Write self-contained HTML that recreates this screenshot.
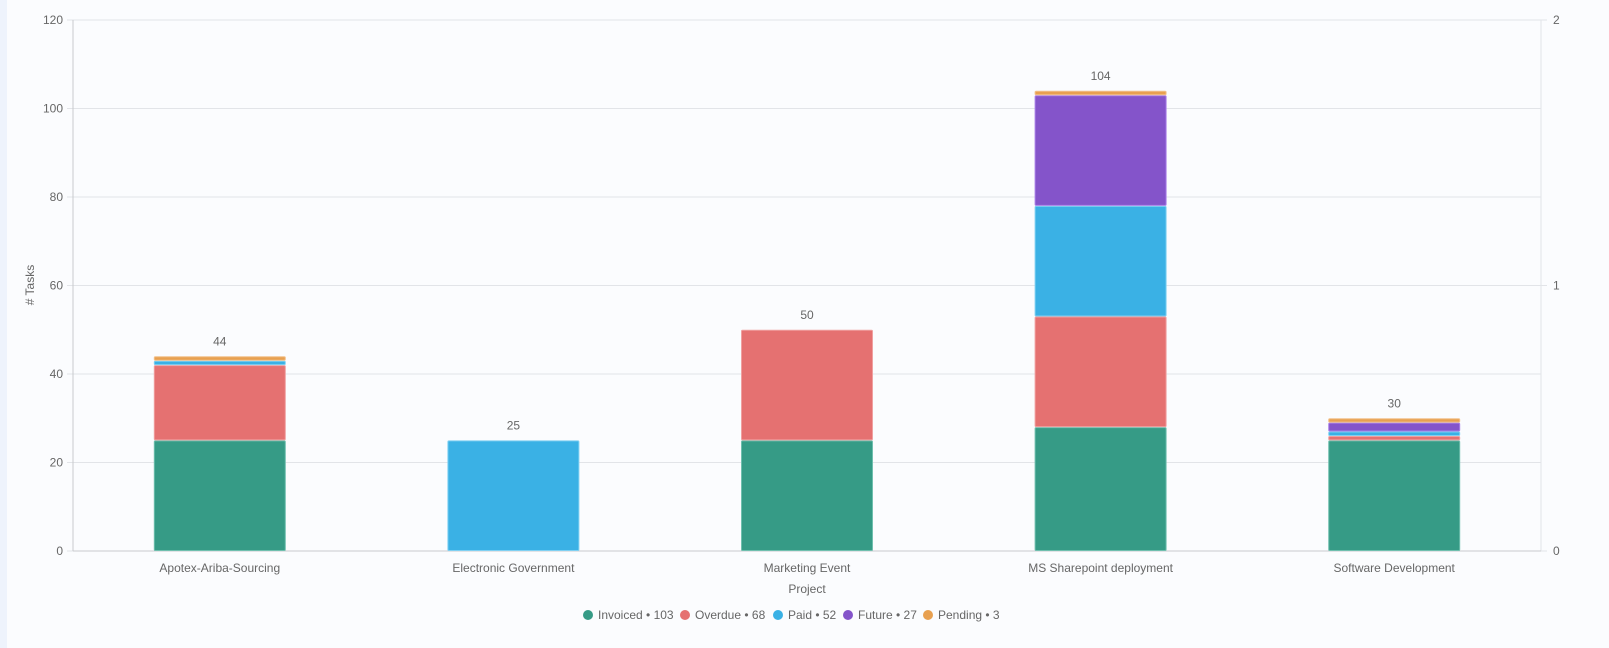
<!DOCTYPE html>
<html><head><meta charset="utf-8"><style>
html,body{margin:0;padding:0;background:#fbfcfe;}
svg{display:block;font-family:"Liberation Sans",sans-serif;}
</style></head><body>
<svg id="c" width="1609" height="648" xmlns="http://www.w3.org/2000/svg">
<rect x="0" y="0" width="7" height="648" fill="#eef3fc"/>
</svg>
<script>
const s=document.getElementById('c');const NS='http://www.w3.org/2000/svg';
function el(t,a,txt){const e=document.createElementNS(NS,t);for(const k in a)e.setAttribute(k,a[k]);if(txt!==undefined)e.textContent=txt;s.appendChild(e);return e;}
const X0=73,X1=1541,Y0=551,k=(551-20)/120;
const y=v=>Y0-v*k;
for(let v=0;v<=120;v+=20){
 el('line',{x1:X0-6,x2:X1,y1:y(v),y2:y(v),stroke:'#e2e4e8','stroke-width':1});
 el('text',{x:X0-10,y:y(v)+4,'text-anchor':'end','font-size':12,fill:'#666'},v);
}
[0,1,2].forEach(v=>{const yy=Y0-v*(531/2);el('line',{x1:X1,x2:X1+6,y1:yy,y2:yy,stroke:'#e2e4e8'});el('text',{x:X1+12,y:yy+4,'font-size':12,fill:'#666'},v);});
el('line',{x1:X0,x2:X0,y1:20,y2:Y0,stroke:'#c8cacd'});
el('line',{x1:X1,x2:X1,y1:20,y2:Y0,stroke:'#e2e4e8'});
el('line',{x1:X0,x2:X1,y1:Y0,y2:Y0,stroke:'#c8cacd'});
const cols=['#369b86','#e57171','#3ab1e5','#8454ca','#e8a050'];
const bord=['#6fbfae','#f0a0a0','#7fd0f2','#a97fe8','#f2c08a'];
const cats=['Apotex-Ariba-Sourcing','Electronic Government','Marketing Event','MS Sharepoint deployment','Software Development'];
const data=[[25,17,1,0,1],[0,0,25,0,0],[25,25,0,0,0],[28,25,25,25,1],[25,1,1,2,1]];
const cw=(X1-X0)/5,bw=132;
cats.forEach((c,i)=>{
 const cx=X0+cw*(i+0.5);let acc=0;
 data[i].forEach((v,j)=>{if(!v)return;const t=y(acc+v),b=y(acc);
  el('rect',{x:cx-bw/2+0.5,y:t+0.5,width:bw-1,height:Math.max(b-t-1,0.5),fill:cols[j],stroke:bord[j],'stroke-width':1,rx:1});acc+=v;});
 el('text',{x:cx,y:y(acc)-11,'text-anchor':'middle','font-size':12,fill:'#666'},acc);
 el('text',{x:cx,y:572,'text-anchor':'middle','font-size':12,fill:'#666'},c);
});
el('text',{x:(X0+X1)/2,y:593,'text-anchor':'middle','font-size':12,fill:'#666'},'Project');
el('text',{x:34,y:285,'text-anchor':'middle','font-size':12,fill:'#666',transform:'rotate(-90 34 285)'},'# Tasks');
const leg=[['Invoiced • 103',583],['Overdue • 68',680],['Paid • 52',773],['Future • 27',843],['Pending • 3',923]];
leg.forEach((l,i)=>{el('circle',{cx:l[1]+5,cy:615,r:5,fill:cols[i]});el('text',{x:l[1]+15,y:619,'font-size':12,fill:'#666'},l[0]);});
</script>
</body></html>
